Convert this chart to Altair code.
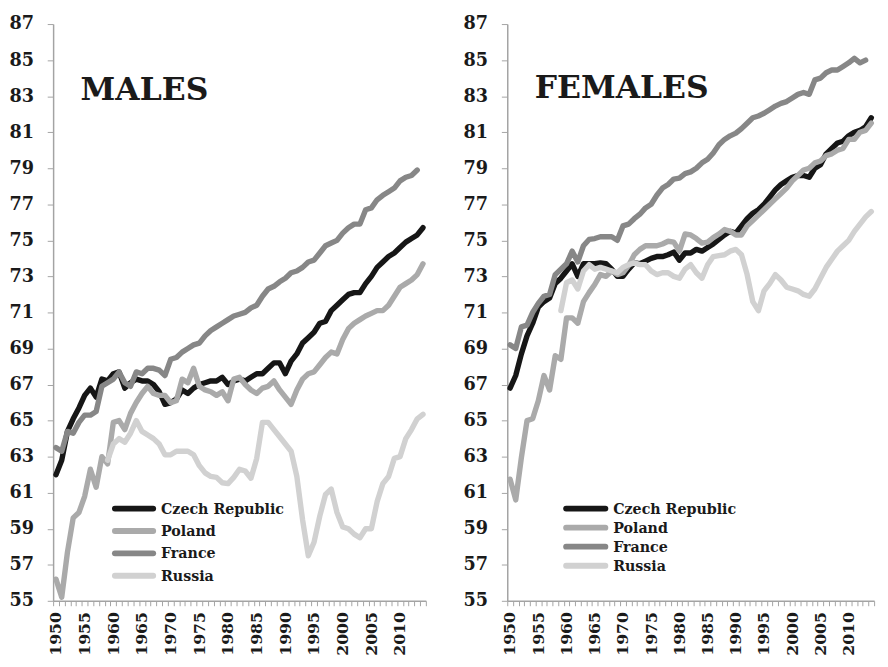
import altair as alt
import pandas as pd

years = list(range(1950, 2015))
countries = ["Czech Republic", "Poland", "France", "Russia"]
colors = ["#161616", "#aaaaaa", "#878787", "#d1d1d1"]

N = None
# MALES
m_czech = [62.0, 62.8, 64.4, 65.1, 65.7, 66.4, 66.8, 66.3, 67.3, 67.2,
           67.6, 67.7, 66.8, 67.1, 67.3, 67.2, 67.2, 67.0, 66.6, 65.9,
           66.0, 66.2, 66.7, 66.5, 66.8, 67.0, 67.1, 67.2, 67.2, 67.4,
           67.0, 67.2, 67.3, 67.2, 67.4, 67.6, 67.6, 67.9, 68.2, 68.2,
           67.6, 68.3, 68.7, 69.3, 69.6, 69.9, 70.4, 70.5, 71.1, 71.4,
           71.7, 72.0, 72.1, 72.1, 72.6, 73.0, 73.5, 73.8, 74.1, 74.3,
           74.6, 74.9, 75.1, 75.3, 75.7]
m_poland = [56.2, 55.2, 57.7, 59.6, 59.9, 60.8, 62.3, 61.3, 63.0, 62.6,
            64.9, 65.0, 64.5, 65.4, 66.0, 66.5, 66.9, 66.5, 66.4, 66.4,
            66.0, 66.1, 67.3, 67.1, 67.9, 66.9, 66.7, 66.6, 66.4, 66.6,
            66.1, 67.3, 67.4, 67.0, 66.7, 66.5, 66.8, 66.9, 67.2, 66.7,
            66.3, 65.9, 66.7, 67.3, 67.6, 67.7, 68.1, 68.5, 68.8, 68.7,
            69.5, 70.1, 70.4, 70.6, 70.8, 70.95, 71.1, 71.1, 71.4, 71.9,
            72.4, 72.6, 72.8, 73.1, 73.7]
m_france = [63.5, 63.3, 64.4, 64.3, 64.9, 65.3, 65.3, 65.5, 66.9, 67.1,
            67.3, 67.7, 67.1, 66.9, 67.7, 67.6, 67.9, 67.9, 67.8, 67.5,
            68.4, 68.5, 68.8, 69.0, 69.2, 69.3, 69.7, 70.0, 70.2, 70.4,
            70.6, 70.8, 70.9, 71.0, 71.25, 71.4, 71.9, 72.3, 72.45, 72.7,
            72.9, 73.2, 73.3, 73.5, 73.8, 73.9, 74.3, 74.7, 74.85, 75.0,
            75.4, 75.7, 75.9, 75.9, 76.7, 76.8, 77.25, 77.5, 77.7, 77.9,
            78.3, 78.5, 78.6, 78.9, N]
m_russia = [N, N, N, N, N, N, N, N, N, 62.8,
            63.7, 64.0, 63.8, 64.3, 65.0, 64.4, 64.2, 64.0, 63.7, 63.1,
            63.1, 63.3, 63.3, 63.3, 63.1, 62.5, 62.1, 61.9, 61.85, 61.55,
            61.5, 61.85, 62.3, 62.2, 61.8, 62.9, 64.9, 64.9, 64.5, 64.1,
            63.7, 63.3, 61.9, 59.5, 57.5, 58.25, 59.7, 60.9, 61.2, 59.9,
            59.1, 59.0, 58.7, 58.5, 59.0, 59.0, 60.5, 61.5, 61.9, 62.9,
            63.0, 64.0, 64.5, 65.1, 65.35]

# FEMALES
f_czech = [66.8, 67.5, 68.7, 69.7, 70.4, 71.3, 71.6, 71.8, 72.6, 72.9,
           73.3, 73.7, 73.0, 73.7, 73.7, 73.7, 73.75, 73.7, 73.4, 73.0,
           73.0, 73.4, 73.75, 73.7, 73.85, 74.0, 74.1, 74.1, 74.2, 74.35,
           73.9, 74.3, 74.3, 74.5, 74.4, 74.6, 74.8, 75.05, 75.3, 75.5,
           75.4, 75.8, 76.2, 76.5, 76.7, 77.0, 77.4, 77.8, 78.1, 78.3,
           78.5, 78.6, 78.6, 78.5, 79.0, 79.2, 79.8, 80.1, 80.4, 80.5,
           80.8, 81.0, 81.1, 81.3, 81.8]
f_poland = [61.75, 60.6, 62.95, 65.0, 65.1, 66.1, 67.5, 66.7, 68.6, 68.4,
            70.7, 70.7, 70.4, 71.6, 72.1, 72.55, 73.1, 73.0, 73.3, 73.1,
            73.2, 73.6, 74.2, 74.5, 74.7, 74.7, 74.7, 74.8, 74.95, 74.9,
            74.4, 75.35, 75.3, 75.1, 74.85, 74.9, 75.15, 75.35, 75.6, 75.5,
            75.3, 75.3, 75.8, 76.1, 76.4, 76.7, 77.0, 77.3, 77.6, 77.9,
            78.3, 78.6, 78.9, 79.0, 79.3, 79.4, 79.7, 79.8, 80.0, 80.1,
            80.6, 80.6, 81.0, 81.1, 81.5]
f_france = [69.2, 69.0, 70.2, 70.3, 71.0, 71.5, 71.9, 72.0, 73.1, 73.4,
            73.7, 74.4, 73.8, 74.7, 75.05, 75.1, 75.2, 75.2, 75.2, 75.0,
            75.8, 75.9, 76.2, 76.45, 76.8, 77.0, 77.5, 77.9, 78.1, 78.4,
            78.45, 78.7, 78.8, 79.0, 79.3, 79.5, 79.85, 80.3, 80.6, 80.8,
            80.95, 81.2, 81.5, 81.8, 81.9, 82.05, 82.25, 82.45, 82.6, 82.7,
            82.9, 83.1, 83.2, 83.1, 83.9, 84.0, 84.3, 84.45, 84.45, 84.65,
            84.85, 85.1, 84.85, 85.0, N]
f_russia = [N, N, N, N, N, N, N, N, N, 71.1,
            72.65, 72.8, 72.3, 73.3, 73.65, 73.4, 73.5, 73.4, 73.3, 73.2,
            73.5, 73.65, 73.75, 73.65, 73.65, 73.3, 73.1, 73.2, 73.2, 73.0,
            72.9, 73.4, 73.65, 73.2, 72.9, 73.65, 74.1, 74.15, 74.2, 74.4,
            74.5, 74.2, 73.1, 71.6, 71.1, 72.2, 72.6, 73.1, 72.8, 72.4,
            72.3, 72.2, 72.0, 71.9, 72.3, 72.9, 73.5, 73.95, 74.4, 74.7,
            75.0, 75.5, 75.9, 76.3, 76.6]

y_ticks = list(range(55, 88, 2))
FONT = "DejaVu Serif"
AXIS_GRAY = "#a3a3a3"
TEXT = "#1a1a1a"


def long_frame(series):
    rows = []
    for name, vals in zip(countries, series):
        for yr, v in zip(years, vals):
            if v is not None:
                rows.append({"year": yr, "country": name, "value": v})
    return pd.DataFrame(rows)


def panel(series, title, width, height, leg_x0, leg_x1, leg_y0, leg_step, title_y):
    df = long_frame(series)
    x = alt.X(
        "year:O",
        scale=alt.Scale(type="band", domain=years, paddingInner=0, paddingOuter=0),
        bandPosition=0.5,
        axis=alt.Axis(
            title=None,
            labelAngle=270,
            labelExpr="datum.value % 5 == 0 ? datum.label : ''",
            labelOverlap=False,
            tickBand="extent",
            tickSize=5,
            tickColor=AXIS_GRAY,
            domainColor=AXIS_GRAY,
            domainWidth=1.5,
            labelFont=FONT,
            labelFontWeight="bold",
            labelFontSize=16,
            labelColor=TEXT,
            labelPadding=6,
        ),
    )
    y = alt.Y(
        "value:Q",
        scale=alt.Scale(domain=[55, 87], nice=False, zero=False),
        axis=alt.Axis(
            title=None,
            values=y_ticks,
            grid=False,
            tickSize=6,
            tickColor=AXIS_GRAY,
            domainColor=AXIS_GRAY,
            domainWidth=1.5,
            labelFont=FONT,
            labelFontWeight="bold",
            labelFontSize=18,
            labelColor=TEXT,
            labelPadding=14,
            labelFlush=False,
        ),
    )
    color = alt.Color(
        "country:N",
        scale=alt.Scale(domain=countries, range=colors),
        legend=None,
    )
    layers = []
    for c in countries:
        layers.append(
            alt.Chart(df[df["country"] == c])
            .mark_line(strokeWidth=5.5, strokeJoin="round", strokeCap="round")
            .encode(x=x, y=y, color=color)
        )
    # in-plot legend (guide)
    for i, (c, col) in enumerate(zip(countries, colors)):
        ly = leg_y0 + i * leg_step
        layers.append(
            alt.Chart(pd.DataFrame({"country": [c]}))
            .mark_rule(strokeWidth=6, strokeCap="round", color=col)
            .encode(x=alt.value(leg_x0), x2=alt.value(leg_x1), y=alt.value(ly))
        )
        layers.append(
            alt.Chart(pd.DataFrame({"country": [c]}))
            .mark_text(font=FONT, fontWeight="bold", fontSize=14.5, align="left",
                       baseline="middle", color=TEXT)
            .encode(text="country:N", x=alt.value(leg_x1 + 8), y=alt.value(ly + 1))
        )
    label = (
        alt.Chart(pd.DataFrame({"t": [title]}))
        .mark_text(font=FONT, fontWeight="bold", fontSize=32, align="left",
                   baseline="alphabetic", color=TEXT)
        .encode(text="t:N", x=alt.value(28), y=alt.value(title_y))
    )
    layers.append(label)
    return alt.layer(*layers).properties(width=width, height=height)


H = 588
males = panel([m_czech, m_poland, m_france, m_russia], "MALES", 380, H,
              63, 102, 494, 22.8, 77)
females = panel([f_czech, f_poland, f_france, f_russia], "FEMALES", 374, H,
                60, 100, 494, 19.4, 75)

chart = (
    alt.hconcat(males, females, spacing=31)
    .properties(padding={"left": 0, "top": 1, "right": 0, "bottom": 0})
    .configure_view(stroke=None)
)

chart.save("out.html", embed_options={"renderer": "svg", "actions": False})
